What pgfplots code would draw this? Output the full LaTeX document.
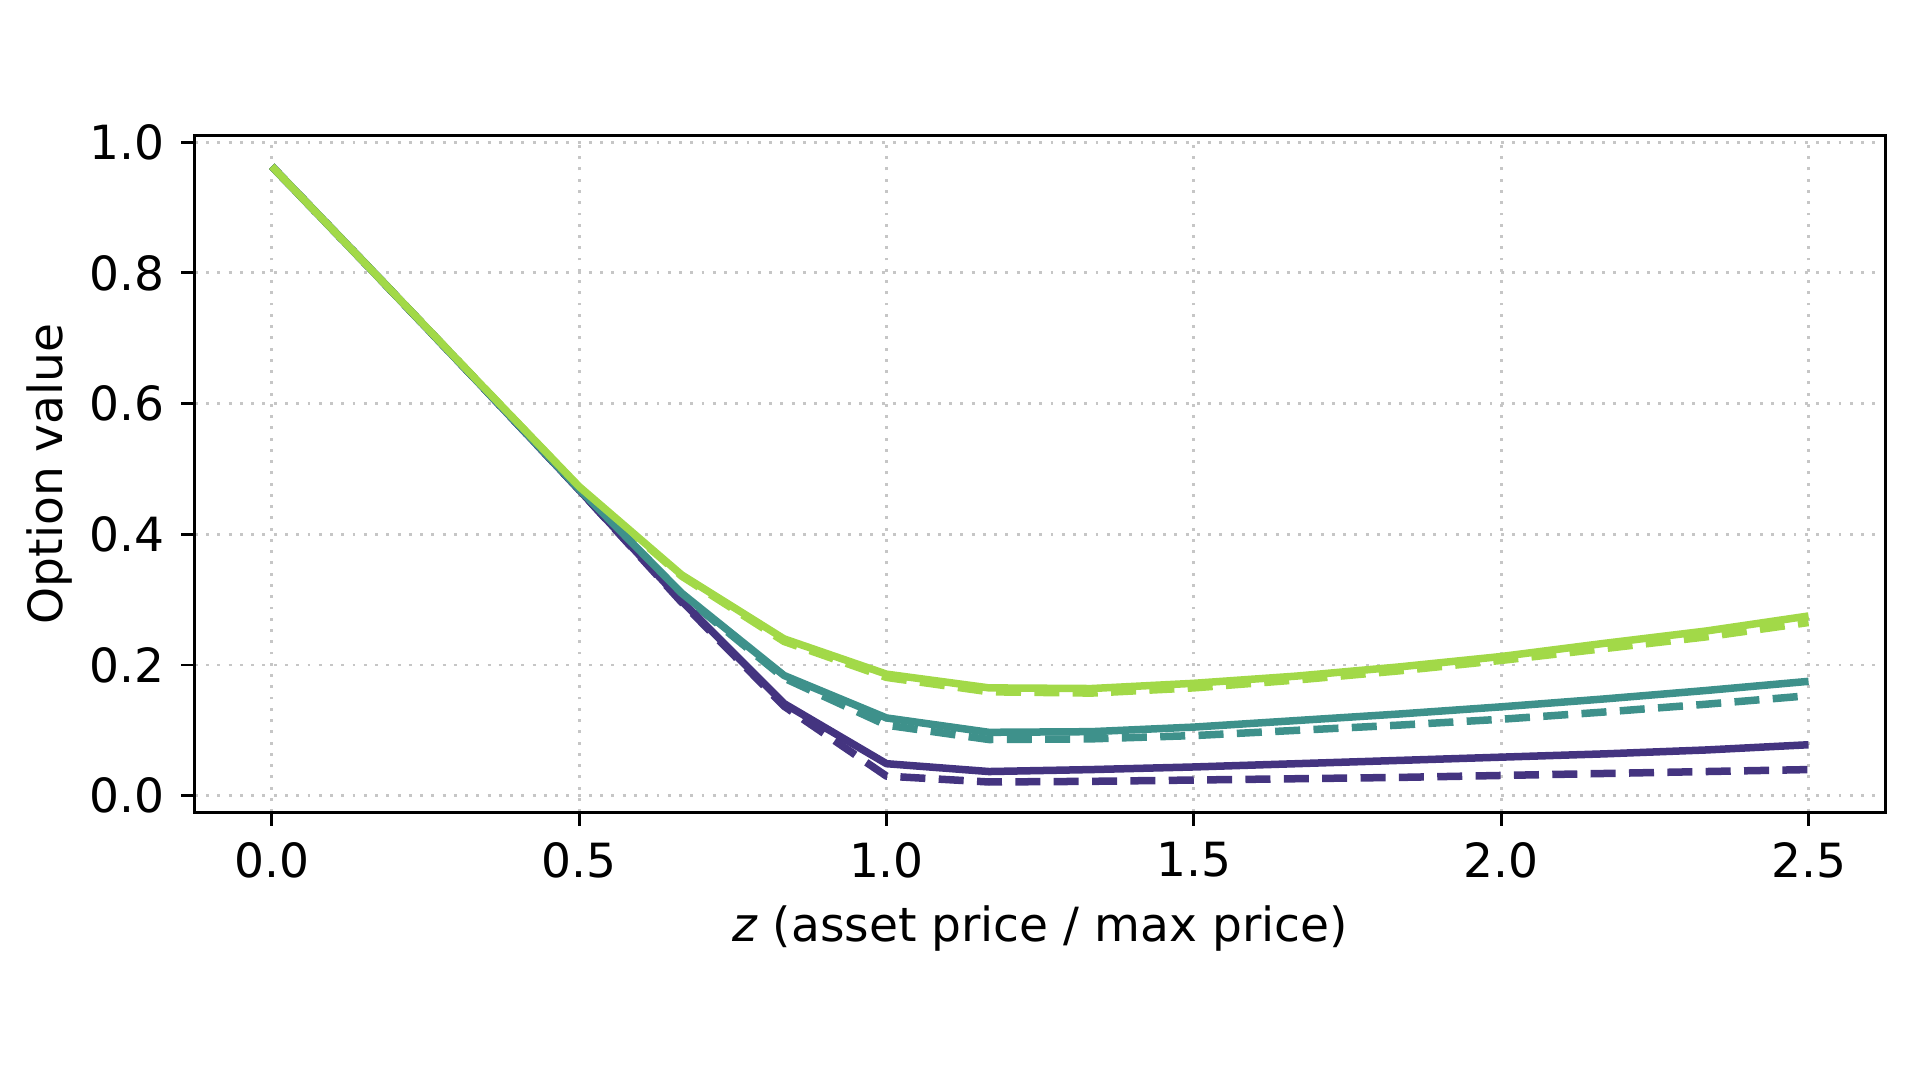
\documentclass[border=0pt]{standalone}
\usepackage{pgfplots}
\pgfplotsset{compat=1.18}
\usetikzlibrary{calc}
\usepackage{fontspec}
\setmainfont{DejaVu Sans}
\definecolor{cpur}{RGB}{68,52,128}
\definecolor{cteal}{RGB}{62,145,139}
\definecolor{cgreen}{RGB}{162,217,72}
\begin{document}
\fontsize{11.3}{13.5}\selectfont
\begin{tikzpicture}
\begin{axis}[
  scale only axis,
  width=5.61in, height=2.245in,
  xmin=-0.125, xmax=2.625,
  ymin=-0.025, ymax=1.01,
  xtick={0,0.5,1,1.5,2,2.5},
  ytick={0,0.2,0.4,0.6,0.8,1.0},
  xticklabels={0.0,0.5,1.0,1.5,2.0,2.5},
  yticklabels={0.0,0.2,0.4,0.6,0.8,1.0},
  tick align=outside,
  major tick length=0.045in,
  tick style={black, line width=0.7pt},
  xtick pos=bottom, ytick pos=left,
  axis line style={line width=0.7pt},
  grid=major,
  grid style={gray!45, line width=0.7pt, dotted},
  ticklabel style={font=\fontsize{11.3}{13.5}\selectfont},
  label style={font=\fontsize{11.3}{13.5}\selectfont},
  xticklabel style={yshift=0pt},
  xlabel={\textit{z} (asset price / max price)},
  ylabel={Option value},
  xlabel style={yshift=1pt},
  ylabel style={yshift=-3.5pt},
  every axis plot/.append style={line width=1.8pt, line join=round},
  /pgf/number format/assume math mode=true,
]
\addplot[cpur, dash pattern=on 6pt off 3.2pt] coordinates {
(0,0.963)(0.16667,0.80)(0.33333,0.635)(0.5,0.468)(0.66667,0.296)(0.83333,0.137)(1.0,0.030)(1.16667,0.021)(1.33333,0.022)(1.5,0.024)(1.66667,0.026)(1.83333,0.028)(2.0,0.031)(2.16667,0.034)(2.33333,0.037)(2.5,0.040)};
\addplot[cteal, dash pattern=on 6pt off 3.2pt] coordinates {
(0,0.963)(0.16667,0.80)(0.33333,0.635)(0.5,0.469)(0.66667,0.308)(0.83333,0.180)(1.0,0.108)(1.16667,0.086)(1.33333,0.087)(1.5,0.092)(1.66667,0.100)(1.83333,0.108)(2.0,0.117)(2.16667,0.128)(2.33333,0.140)(2.5,0.153)};
\addplot[cgreen, dash pattern=on 6pt off 3.2pt] coordinates {
(0,0.963)(0.16667,0.80)(0.33333,0.636)(0.5,0.472)(0.66667,0.336)(0.83333,0.236)(1.0,0.181)(1.16667,0.159)(1.33333,0.157)(1.5,0.165)(1.66667,0.177)(1.83333,0.191)(2.0,0.207)(2.16667,0.225)(2.33333,0.243)(2.5,0.265)};
\addplot[cpur] coordinates {
(0,0.963)(0.16667,0.80)(0.33333,0.635)(0.5,0.468)(0.66667,0.298)(0.83333,0.141)(1.0,0.049)(1.16667,0.037)(1.33333,0.040)(1.5,0.044)(1.66667,0.049)(1.83333,0.054)(2.0,0.059)(2.16667,0.064)(2.33333,0.070)(2.5,0.078)};
\addplot[cteal] coordinates {
(0,0.963)(0.16667,0.80)(0.33333,0.635)(0.5,0.469)(0.66667,0.310)(0.83333,0.184)(1.0,0.119)(1.16667,0.097)(1.33333,0.098)(1.5,0.105)(1.66667,0.115)(1.83333,0.125)(2.0,0.136)(2.16667,0.148)(2.33333,0.161)(2.5,0.175)};
\addplot[cgreen] coordinates {
(0,0.963)(0.16667,0.80)(0.33333,0.636)(0.5,0.473)(0.66667,0.338)(0.83333,0.240)(1.0,0.186)(1.16667,0.165)(1.33333,0.164)(1.5,0.172)(1.66667,0.183)(1.83333,0.197)(2.0,0.213)(2.16667,0.233)(2.33333,0.252)(2.5,0.275)};
\end{axis}
\pgfresetboundingbox
\path (current axis.south west) ++(-0.647in,-0.9in) rectangle ($(current axis.north east)+(0.115in,0.45in)$);
\end{tikzpicture}
\end{document}
